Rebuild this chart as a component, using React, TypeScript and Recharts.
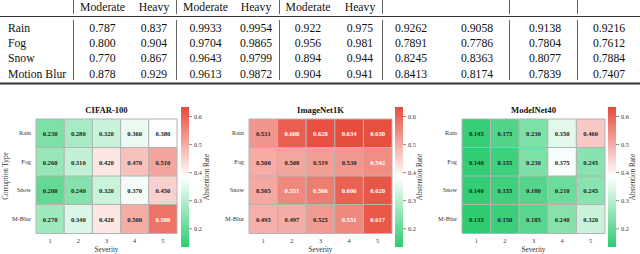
import React from 'react';
import { BarChart, Bar, XAxis, YAxis, LabelList, Cell } from 'recharts';

// ---------- table data ----------
const tableHeader = ['Moderate', 'Heavy', 'Moderate', 'Heavy', 'Moderate', 'Heavy', '', '', '', ''];
const tableRowLabels = ['Rain', 'Fog', 'Snow', 'Motion Blur'];
const tableRain = ['0.787', '0.837', '0.9933', '0.9954', '0.922', '0.975', '0.9262', '0.9058', '0.9138', '0.9216'];
const tableFog = ['0.800', '0.904', '0.9704', '0.9865', '0.956', '0.981', '0.7891', '0.7786', '0.7804', '0.7612'];
const tableSnow = ['0.770', '0.867', '0.9643', '0.9799', '0.894', '0.944', '0.8245', '0.8363', '0.8077', '0.7884'];
const tableMBlur = ['0.878', '0.929', '0.9613', '0.9872', '0.904', '0.941', '0.8413', '0.8174', '0.7839', '0.7407'];

// ---------- heatmap data ----------
const corruptions = ['Rain', 'Fog', 'Snow', 'M-Blur'];
const severities = [1, 2, 3, 4, 5];
const cifarValues = [
  [0.23, 0.28, 0.32, 0.36, 0.38],
  [0.26, 0.31, 0.42, 0.47, 0.51],
  [0.2, 0.24, 0.32, 0.37, 0.45],
  [0.27, 0.34, 0.42, 0.5, 0.58],
];
const imagenetValues = [
  [0.531, 0.608, 0.628, 0.634, 0.63],
  [0.5, 0.508, 0.519, 0.53, 0.542],
  [0.505, 0.551, 0.566, 0.606, 0.62],
  [0.495, 0.497, 0.525, 0.551, 0.617],
];
const modelnetValues = [
  [0.145, 0.175, 0.23, 0.35, 0.46],
  [0.14, 0.155, 0.23, 0.375, 0.245],
  [0.14, 0.155, 0.18, 0.21, 0.245],
  [0.135, 0.15, 0.185, 0.24, 0.32],
];
const colorbarTicks = [0.2, 0.3, 0.4, 0.5, 0.6];
const VMIN = 0.135;
const VMAX = 0.634;

// ---------- styles / layout ----------
const SERIF = "Liberation Serif, Tinos, Times New Roman, Times, serif";
const GREEN = [46, 204, 113];
const RED = [231, 76, 60];
const WHITE = [255, 255, 255];
const colX = [102.5, 154, 205.5, 256, 308, 360, 411, 477, 545, 609];
const vLines = [73, 176, 279, 382, 509, 577];
const rowY = [28.3, 43.6, 58.9, 74.2];

function mix(a: number[], b: number[], t: number) {
  const c = a.map((av, i) => Math.round(av + (b[i] - av) * t));
  return `rgb(${c[0]},${c[1]},${c[2]})`;
}
function colorFor(v: number) {
  const mid = (VMIN + VMAX) / 2;
  if (v <= mid) {
    const t = Math.max(0, Math.min(1, (v - VMIN) / (mid - VMIN)));
    return mix(GREEN, WHITE, t);
  }
  const t = Math.max(0, Math.min(1, (v - mid) / (VMAX - mid)));
  return mix(WHITE, RED, t);
}

const renderCellLabel = (props: any) => {
  const vb = props.viewBox && props.viewBox.width !== undefined ? props.viewBox : props;
  const { x, y, width, height } = vb;
  const v = Number(props.value);
  return (
    <text
      x={x + width / 2}
      y={y + height / 2}
      textAnchor="middle"
      dominantBaseline="central"
      style={{ fontFamily: SERIF }}
      fontWeight="bold"
      fontSize={6.6}
      fill={v > 0.535 ? '#ffffff' : '#222222'}
    >
      {v.toFixed(3)}
    </text>
  );
};

const YAXIS_W = 36;
const PANEL_TOP = 100;
const PANEL_H = 154;
const tickStyle = { fontSize: 6.3, fill: '#333', style: { fontFamily: SERIF } } as any;

function Heatmap({ values, plotLeft, plotWidth }: { values: number[][]; plotLeft: number; plotWidth: number }) {
  const rows = corruptions.map((name, i) => {
    const r: any = { name };
    severities.forEach((s, j) => {
      r[`s${s}`] = 1;
      r[`v${s}`] = values[i][j];
    });
    return r;
  });
  return (
    <div style={{ position: 'absolute', left: plotLeft - YAXIS_W, top: PANEL_TOP, fontFamily: SERIF }}>
      <BarChart
        width={YAXIS_W + plotWidth + 2}
        height={PANEL_H}
        data={rows}
        layout="vertical"
        margin={{ top: 19, right: 2, bottom: 0, left: 0 }}
        barCategoryGap={0}
        barGap={0}
        style={{ fontFamily: SERIF }}
      >
        <XAxis
          type="number"
          domain={[0, severities.length]}
          ticks={severities.map((s, j) => j + 0.5)}
          tickFormatter={(v: number) => String(severities[Math.round(v - 0.5)])}
          interval={0}
          height={21}
          axisLine={false}
          tickLine={false}
          tickSize={3}
          tickMargin={3}
          tick={tickStyle}
        />
        <YAxis
          type="category"
          dataKey="name"
          width={YAXIS_W}
          axisLine={false}
          tickLine={false}
          tickSize={3}
          tickMargin={2}
          interval={0}
          tick={tickStyle}
        />
        {severities.map((s) => (
          <Bar
            key={s}
            dataKey={`s${s}`}
            stackId="h"
            isAnimationActive={false}
            stroke="#b4b4b4"
            strokeWidth={1}
          >
            {rows.map((r, i) => (
              <Cell key={i} fill={colorFor(r[`v${s}`])} />
            ))}
            <LabelList dataKey={`v${s}`} content={renderCellLabel} />
          </Bar>
        ))}
      </BarChart>
    </div>
  );
}

function Colorbar({ left, id }: { left: number; id: string }) {
  return (
    <div style={{ position: 'absolute', left, top: 107, fontFamily: SERIF }}>
      <BarChart
        width={38}
        height={140}
        data={[{ n: 'cb', r: [VMIN, VMAX] }]}
        margin={{ top: 0, right: 0, bottom: 0, left: 0 }}
        barCategoryGap={0}
        style={{ fontFamily: SERIF }}
      >
        <defs>
          <linearGradient id={id} x1="0" y1="0" x2="0" y2="1">
            <stop offset="0" stopColor={mix(RED, RED, 0)} />
            <stop offset="0.5" stopColor="#ffffff" />
            <stop offset="1" stopColor={mix(GREEN, GREEN, 0)} />
          </linearGradient>
        </defs>
        <XAxis dataKey="n" type="category" hide />
        <YAxis
          orientation="right"
          type="number"
          domain={[VMIN, VMAX]}
          allowDataOverflow
          ticks={colorbarTicks}
          tickFormatter={(v: number) => v.toFixed(1)}
          width={30}
          axisLine={false}
          tickSize={3}
          tickMargin={2}
          tickLine={{ stroke: '#555', strokeWidth: 0.7 }}
          tick={tickStyle}
        />
        <Bar dataKey="r" fill={`url(#${id})`} isAnimationActive={false} />
      </BarChart>
    </div>
  );
}

const panels = [
  { title: 'CIFAR-100', values: cifarValues, plotLeft: 36, plotWidth: 141, cbLeft: 181, labelX: 207 },
  { title: 'ImageNet1K', values: imagenetValues, plotLeft: 249, plotWidth: 143, cbLeft: 395, labelX: 420 },
  { title: 'ModelNet40', values: modelnetValues, plotLeft: 462, plotWidth: 143, cbLeft: 608, labelX: 633 },
];

const txt = { fontFamily: SERIF } as React.CSSProperties;

export default function App() {
  const tableData = [tableRain, tableFog, tableSnow, tableMBlur];
  return (
    <div style={{ position: 'absolute', left: 0, top: 0, width: 640, height: 254, background: '#fff', overflow: 'hidden', fontFamily: SERIF }}>
      <svg width={640} height={254} style={{ position: 'absolute', left: 0, top: 0, fontFamily: SERIF }}>
        {tableHeader.map((h, i) =>
          h ? (
            <text key={`h${i}`} x={colX[i]} y={7.5} textAnchor="middle" dominantBaseline="central" style={txt} fontSize={11.7} fill="#111">
              {h}
            </text>
          ) : null
        )}
        <line x1={0} x2={640} y1={16.5} y2={16.5} stroke="#333" strokeWidth={1} />
        <line x1={0} x2={640} y1={83.5} y2={83.5} stroke="#333" strokeWidth={2} />
        {vLines.map((x, i) => (
          <g key={`v${i}`}>
            <line x1={x + 0.5} x2={x + 0.5} y1={0} y2={14} stroke="#666" strokeWidth={1} />
            <line x1={x + 0.5} x2={x + 0.5} y1={20} y2={80} stroke="#666" strokeWidth={1} />
          </g>
        ))}
        {tableRowLabels.map((r, i) => (
          <text key={`r${i}`} x={8} y={rowY[i]} dominantBaseline="central" style={txt} fontSize={11.7} fill="#111">
            {r}
          </text>
        ))}
        {tableData.map((row, i) =>
          row.map((v, j) => (
            <text key={`c${i}-${j}`} x={colX[j]} y={rowY[i]} textAnchor="middle" dominantBaseline="central" style={txt} fontSize={11.7} fill="#111">
              {v}
            </text>
          ))
        )}
        {panels.map((p, i) => (
          <g key={`p${i}`}>
            <text x={p.plotLeft + p.plotWidth / 2} y={110} textAnchor="middle" dominantBaseline="central" style={txt} fontWeight="bold" fontSize={8.6} fill="#111">
              {p.title}
            </text>
            <text x={p.plotLeft + p.plotWidth / 2} y={250} textAnchor="middle" dominantBaseline="central" style={txt} fontSize={7.2} fill="#333">
              Severity
            </text>
            <text x={p.labelX} y={177} transform={`rotate(-90 ${p.labelX} 177)`} textAnchor="middle" dominantBaseline="central" style={txt} fontSize={7.2} fill="#333">
              Abstention Rate
            </text>
          </g>
        ))}
        <text x={6} y={176} transform="rotate(-90 6 176)" textAnchor="middle" dominantBaseline="central" style={txt} fontSize={7.2} fill="#333">
          Corruption Type
        </text>
      </svg>
      {panels.map((p, i) => (
        <Heatmap key={`hm${i}`} values={p.values} plotLeft={p.plotLeft} plotWidth={p.plotWidth} />
      ))}
      {panels.map((p, i) => (
        <Colorbar key={`cb${i}`} left={p.cbLeft} id={`cbgrad${i}`} />
      ))}
    </div>
  );
}
